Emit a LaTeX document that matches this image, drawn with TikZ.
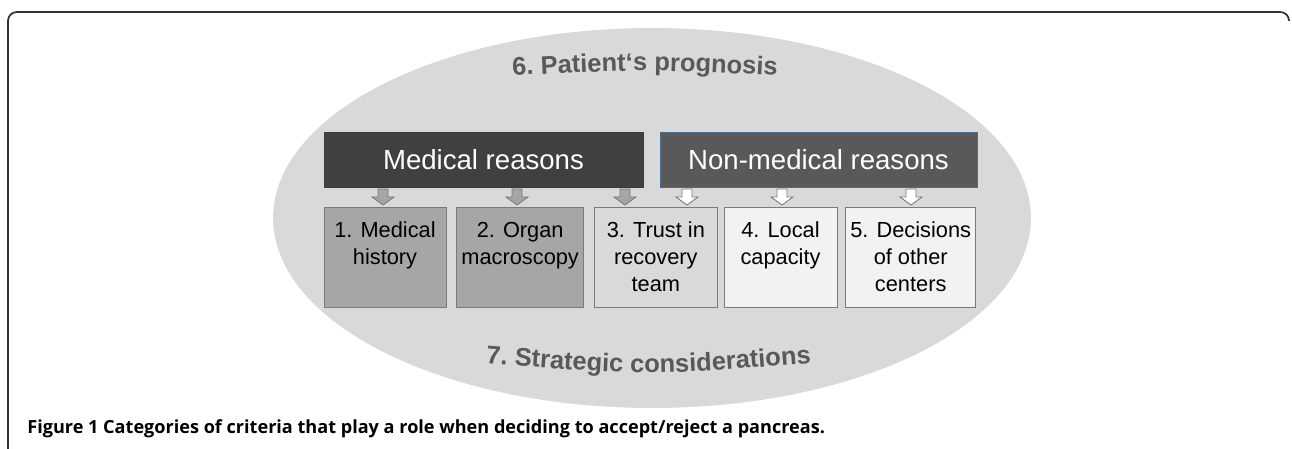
\documentclass[tikz,border=0pt]{standalone}
\usepackage{fontspec}
\setmainfont{Liberation Sans}
\newfontfamily\capfont{Open Sans}
\usetikzlibrary{positioning}
\usetikzlibrary{decorations.text}

\definecolor{ovalgray}{HTML}{D9D9D9}
\definecolor{medhead}{HTML}{404040}
\definecolor{nonmedhead}{HTML}{595959}
\definecolor{nonmededge}{HTML}{4A6A9A}
\definecolor{medbox}{HTML}{A6A6A6}
\definecolor{midbox}{HTML}{D9D9D9}
\definecolor{lightbox}{HTML}{F2F2F2}
\definecolor{boxedge}{HTML}{7A7A7A}
\definecolor{titlegray}{HTML}{595959}

\tikzset{
  pics/blockdown/.style={code={
    \draw[pic actions] (0,0) -- (11,8) -- (5,8) -- (5,16) -- (-5,16) -- (-5,8) -- (-11,8) -- cycle;
  }}
}

\begin{document}
\begin{tikzpicture}[x=0.02cm,y=0.02cm,
  headbox/.style={rectangle,minimum height=1.1cm,inner sep=0pt,text=white,font=\fontsize{15.7}{18}\selectfont},
  catbox/.style={rectangle,draw=boxedge,minimum height=2cm,inner sep=0pt,align=center,font=\fontsize{12.4}{15.3}\selectfont},
  grayarrow/.style={fill=medbox,draw=boxedge,line width=0.5pt},
  whitearrow/.style={fill=white,draw=boxedge,line width=0.5pt}]
\useasboundingbox (0,0) rectangle (1292,449);
\draw[black!80,line width=1pt,rounded corners=5pt] (8,0) -- (8,437) -- (1289,437) -- (1289,429);

\fill[ovalgray] (652,231) ellipse [x radius=7.58cm, y radius=3.8cm];

\node[headbox,fill=medhead,draw=medhead!90!black,minimum width=6.38cm] (med) at (483.5,289.5) {Medical reasons};
\node[headbox,fill=nonmedhead,draw=nonmededge,minimum width=6.34cm] (nonmed) at (818.5,289.5) {Non-medical reasons};

\node[catbox,fill=medbox,minimum width=2.44cm] (c1) at (385,192) {1. Medical\\history\\\vphantom{t}};
\node[catbox,fill=medbox,minimum width=2.54cm,right=0.2cm of c1] (c2) {2. Organ\\macroscopy\\\vphantom{t}};
\node[catbox,fill=midbox,minimum width=2.46cm,right=0.2cm of c2] (c3) {3. Trust in\\recovery\\team};
\node[catbox,fill=lightbox,minimum width=2.26cm,right=0.12cm of c3] (c4) {4. Local\\capacity\\\vphantom{t}};
\node[catbox,fill=lightbox,minimum width=2.6cm,right=0.16cm of c4] (c5) {5. Decisions\\of other\\centers};

\pic[grayarrow] at (383,244) {blockdown};
\pic[grayarrow] at (517,244) {blockdown};
\pic[grayarrow] at (625,244) {blockdown};
\pic[whitearrow] at (687,244) {blockdown};
\pic[whitearrow] at (782,244) {blockdown};
\pic[whitearrow] at (911,244) {blockdown};

\path[decorate,decoration={text along path,text align=center,text color=titlegray,
  text={|\fontsize{14.5}{17}\selectfont\bfseries|6. Patient‘s prognosis}}]
  (495,372.5) .. controls (645,380) .. (795,372.5);
\path[decorate,decoration={text along path,text align=center,text color=titlegray,
  text={|\fontsize{14.5}{17}\selectfont\bfseries|7. Strategic considerations}}]
  (468,87) .. controls (648.5,73) .. (829,87);

\node[anchor=base west,inner sep=0pt,font=\capfont\bfseries\fontsize{10.3}{12}\selectfont] (cap) at (27,15)
  {Figure 1 Categories of criteria that play a role when deciding to accept/reject a pancreas.};
\end{tikzpicture}
\end{document}
